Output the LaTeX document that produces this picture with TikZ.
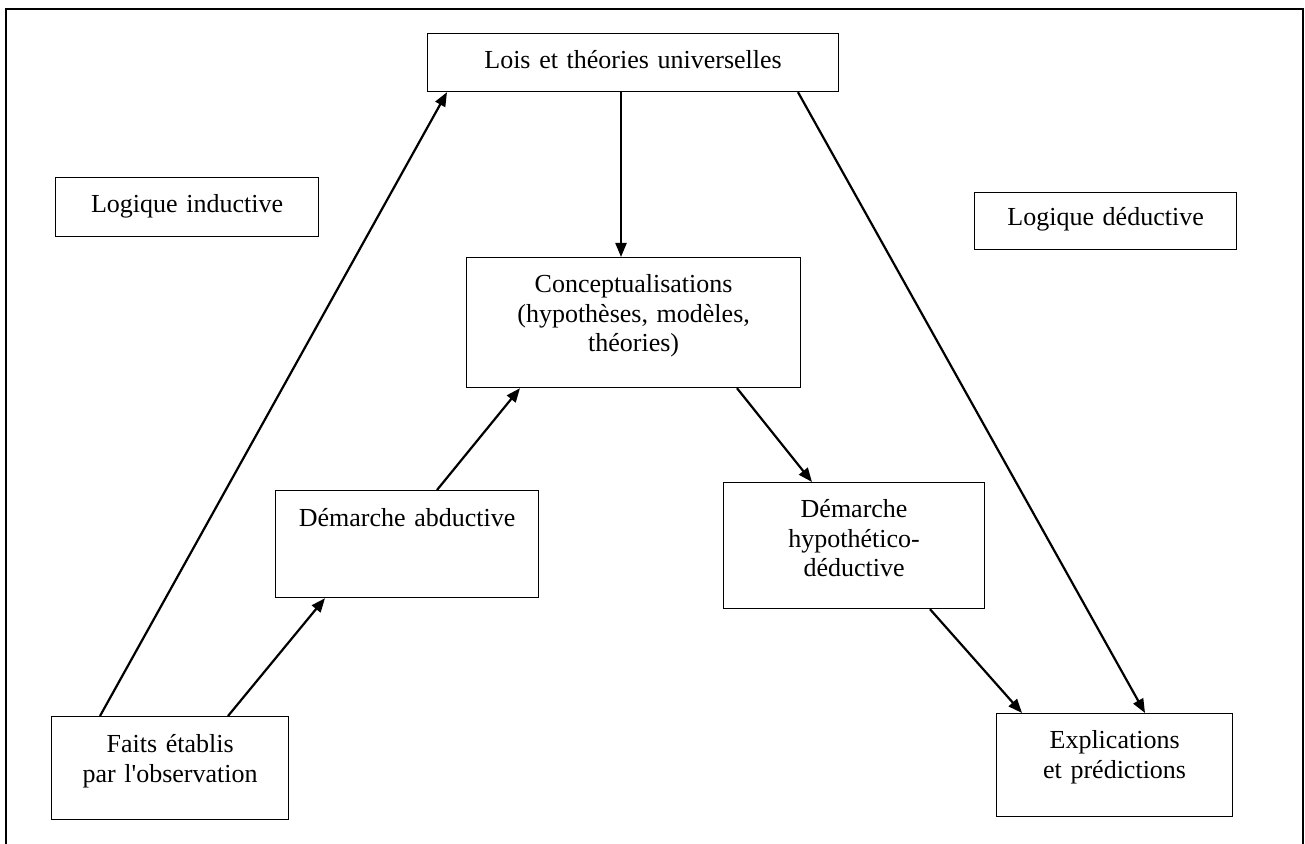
\documentclass[tikz,border=0pt]{standalone}
\usepackage{fontspec}
\setmainfont{Liberation Serif}[Ligatures=TeXOff]
\usepackage{tikz}
\usetikzlibrary{arrows.meta, positioning}

\tikzset{
    boite/.style={draw, line width=0.6pt, inner sep=0pt, align=center,
        anchor=north west, font=\fontsize{13}{14.8}\selectfont},
    fleche/.style={line width=1.1pt, -{Triangle[length=7pt, width=5.5pt]}}
}

\begin{document}
\begin{tikzpicture}[x=0.5pt, y=-0.5pt]
    % page and frame
    \useasboundingbox (0,0) rectangle (1305,844);
    \draw[line width=0.8pt] (6,844) -- (6,9) -- (1303,9) -- (1303,844);

    % boxes
    \node[boite, text width=205.5pt, text height=17.5pt, text depth=11.5pt] (lois) at (427,33) {Lois et théories universelles};
    \node[boite, text width=131.5pt, text height=17.5pt, text depth=12pt] (inductive) at (55,177) {Logique inductive};
    \node[boite, text width=131pt, text height=16.5pt, text depth=12pt] (deductive) at (974,192) {Logique déductive};
    \node[boite, text width=167pt, text height=17.5pt, text depth=47.5pt] (concept) at (466,257) {Conceptualisations\\(hypothèses, modèles,\\théories)};
    \node[boite, text width=131.5pt, text height=18pt, text depth=35.5pt] (abductive) at (275,490) {Démarche abductive};
    \node[boite, text width=130.5pt, text height=17.5pt, text depth=45.5pt] (hypo) at (723,482) {Démarche\\hypothético-\\déductive};
    \node[boite, text width=118.5pt, text height=18pt, text depth=33.5pt] (faits) at (51,716) {Faits établis\\par l'observation};
    \node[boite, text width=118pt, text height=17.5pt, text depth=34pt] (expl) at (996,713) {Explications\\et prédictions};

    % arrows
    \draw[fleche] ([xshift=24.5pt]faits.north west) -- ([xshift=10pt]lois.south west);
    \draw[fleche] ([xshift=88.5pt]faits.north west) -- ([xshift=25pt]abductive.south west);
    \draw[fleche] ([xshift=81pt]abductive.north west) -- ([xshift=27pt]concept.south west);
    \draw[fleche] ([xshift=97pt]lois.south west) -- ([xshift=77.5pt]concept.north west);
    \draw[fleche] ([xshift=185.5pt]lois.south west) -- ([xshift=74.5pt]expl.north west);
    \draw[fleche] ([xshift=135.5pt]concept.south west) -- ([xshift=44.5pt]hypo.north west);
    \draw[fleche] ([xshift=103.5pt]hypo.south west) -- ([xshift=13pt]expl.north west);
\end{tikzpicture}
\end{document}
